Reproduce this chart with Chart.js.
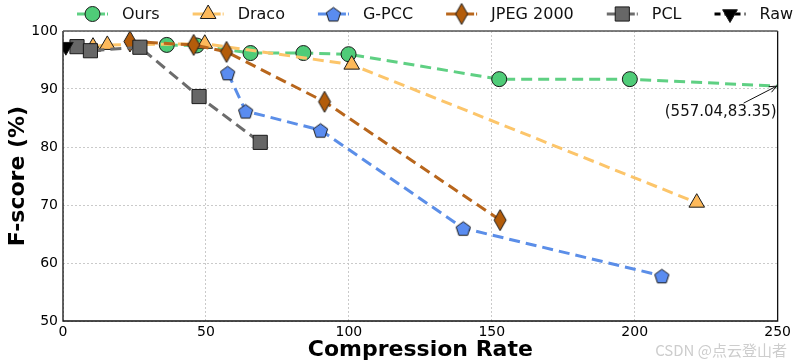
<!DOCTYPE html>
<html>
<head>
<meta charset="utf-8">
<script src="https://cdn.jsdelivr.net/npm/chart.js@4.4.1/dist/chart.umd.min.js"></script>
<style>
  html, body { margin: 0; padding: 0; background: #fff; }
  #wrap { width: 794px; height: 363px; }
</style>
</head>
<body>
<div id="wrap"><canvas id="myChart" width="794" height="363"></canvas></div>
<script>
// values
var oursX = [36.3, 46.8, 65.6, 84.1, 99.9, 152.6, 198.3, 557.04];
var oursY = [97.6, 97.5, 96.2, 96.2, 96.0, 91.7, 91.7, 83.35];
var dracoX = [10.5, 15.5, 49.6, 101.0, 221.7];
var dracoY = [97.3, 97.6, 97.8, 94.2, 70.4];
var gpccX = [57.6, 63.9, 90.1, 140.0, 209.5];
var gpccY = [92.8, 86.2, 82.9, 66.0, 57.8];
var jpegX = [23.4, 45.7, 57.2, 91.5, 152.9];
var jpegY = [98.2, 97.6, 96.4, 87.8, 67.4];
var pclX = [4.9, 9.6, 26.9, 47.6, 69.0];
var pclY = [97.3, 96.6, 97.2, 88.7, 80.8];
var rawX = [1];
var rawY = [97.3];
var names = ['Ours', 'Draco', 'G-PCC', 'JPEG 2000', 'PCL', 'Raw'];
var xTicks = [0, 50, 100, 150, 200, 250];
var yTicks = [50, 60, 70, 80, 90, 100];

function pts(xs, ys) {
    var out = [];
    for (var i = 0; i < xs.length; i++) out.push({ x: xs[i], y: ys[i] });
    return out;
}

// pentagon and thin diamond markers (not built into Chart.js)
function pentagon(r, fill) {
    var s = Math.ceil(2 * r + 4);
    var c = document.createElement('canvas');
    c.width = s; c.height = s;
    var g = c.getContext('2d');
    g.beginPath();
    for (var i = 0; i < 5; i++) {
        var a = -Math.PI / 2 + i * 2 * Math.PI / 5;
        var px = s / 2 + r * Math.cos(a), py = s / 2 + 1 + r * Math.sin(a);
        if (i == 0) g.moveTo(px, py); else g.lineTo(px, py);
    }
    g.closePath();
    g.fillStyle = fill; g.fill();
    g.lineWidth = 1; g.strokeStyle = '#1a1a1a'; g.stroke();
    return c;
}

function thinDiamond(w, h, fill) {
    var c = document.createElement('canvas');
    c.width = w + 4; c.height = h + 4;
    var g = c.getContext('2d');
    var cx = c.width / 2, cy = c.height / 2;
    g.beginPath();
    g.moveTo(cx, cy - h / 2);
    g.lineTo(cx + w / 2, cy);
    g.lineTo(cx, cy + h / 2);
    g.lineTo(cx - w / 2, cy);
    g.closePath();
    g.fillStyle = fill; g.fill();
    g.lineWidth = 1; g.strokeStyle = '#1a1a1a'; g.stroke();
    return c;
}

var dash = [11, 6];

var datasets = [
    { label: names[0], data: pts(oursX, oursY), borderColor: '#5fd083', backgroundColor: '#4fcc78',
      pointStyle: 'circle', pointRadius: 7.5, order: 6 },
    { label: names[1], data: pts(dracoX, dracoY), borderColor: '#fcc56a', backgroundColor: '#fdb95a',
      pointStyle: 'triangle', pointRadius: 9, order: 5 },
    { label: names[2], data: pts(gpccX, gpccY), borderColor: '#5b8ee8', backgroundColor: '#5a8cf0',
      pointStyle: pentagon(7.5, '#5a8cf0'), pointRadius: 8, order: 4 },
    { label: names[3], data: pts(jpegX, jpegY), borderColor: '#b8661c', backgroundColor: '#b35c0a',
      pointStyle: thinDiamond(12, 21, '#b35c0a'), pointRadius: 10, order: 3 },
    { label: names[4], data: pts(pclX, pclY), borderColor: '#6c6c6c', backgroundColor: '#676767',
      pointStyle: 'rect', pointRadius: 10, order: 2 },
    { label: names[5], data: pts(rawX, rawY), borderColor: '#000', backgroundColor: '#000',
      pointStyle: 'triangle', rotation: 180, pointRadius: 8.5, order: 1 }
];
datasets.forEach(function (d) {
    d.borderWidth = 3;
    d.borderDash = dash;
    d.pointBorderColor = '#1a1a1a';
    d.pointBorderWidth = 1;
    d.pointHoverRadius = d.pointRadius;
    d.pointRotation = d.rotation || 0;
    d.tension = 0;
    d.clip = 0;
});

// legend row: short line + marker + name
var legendPlugin = {
    id: 'lineLegend',
    afterDraw: function (chart) {
        var ctx = chart.ctx;
        var x = 77, y = 14, gap = 33;
        ctx.save();
        ctx.font = '16px "DejaVu Sans"';
        ctx.textBaseline = 'middle';
        ctx.textAlign = 'left';
        chart.data.datasets.forEach(function (d) {
            ctx.strokeStyle = d.borderColor;
            ctx.lineWidth = 3;
            ctx.setLineDash(d.label == 'Raw' ? [6, 4] : [13, 2]);
            ctx.beginPath();
            ctx.moveTo(x, y); ctx.lineTo(x + 31, y);
            ctx.stroke();
            ctx.setLineDash([]);
            ctx.fillStyle = d.backgroundColor;
            ctx.strokeStyle = '#1a1a1a';
            ctx.lineWidth = 1;
            Chart.helpers.drawPoint(ctx, {
                pointStyle: d.pointStyle, radius: d.pointRadius,
                rotation: d.pointRotation, borderWidth: 1
            }, x + 15.5, y);
            ctx.fillStyle = '#111';
            ctx.fillText(d.label, x + 45, y + 1);
            x = x + 45 + ctx.measureText(d.label).width + gap;
        });
        ctx.restore();
    }
};

// frame, note for the clipped last point, watermark
var extrasPlugin = {
    id: 'extras',
    afterDraw: function (chart) {
        var ctx = chart.ctx, a = chart.chartArea;
        var xs = chart.scales.x, ys = chart.scales.y;
        ctx.save();
        ctx.setLineDash([]);
        ctx.lineWidth = 1.3;
        ctx.strokeStyle = '#111';
        ctx.beginPath();
        ctx.moveTo(a.left, a.top); ctx.lineTo(a.left, a.bottom);
        ctx.lineTo(a.right, a.bottom); ctx.lineTo(a.right, a.top);
        ctx.stroke();
        ctx.strokeStyle = '#555';
        ctx.beginPath();
        ctx.moveTo(a.left, a.top); ctx.lineTo(a.right, a.top);
        ctx.stroke();

        var n = oursX.length;
        var x0 = oursX[n - 2], y0 = oursY[n - 2], x1 = oursX[n - 1], y1 = oursY[n - 1];
        var yEdge = y0 + (y1 - y0) * (xs.max - x0) / (x1 - x0);
        var hx = xs.getPixelForValue(xs.max) - 1, hy = ys.getPixelForValue(yEdge);
        var tx = hx - 33, ty = hy + 17;
        ctx.strokeStyle = '#111';
        ctx.lineWidth = 1;
        ctx.beginPath();
        ctx.moveTo(tx, ty); ctx.lineTo(hx, hy);
        var ang = Math.atan2(hy - ty, hx - tx);
        ctx.moveTo(hx, hy); ctx.lineTo(hx - 8 * Math.cos(ang - 0.4), hy - 8 * Math.sin(ang - 0.4));
        ctx.moveTo(hx, hy); ctx.lineTo(hx - 8 * Math.cos(ang + 0.4), hy - 8 * Math.sin(ang + 0.4));
        ctx.stroke();
        ctx.font = '15px "DejaVu Sans"';
        ctx.fillStyle = '#111';
        ctx.textAlign = 'right';
        ctx.textBaseline = 'middle';
        ctx.fillText('(' + x1 + ',' + y1 + ')', hx, hy + 26);

        ctx.font = '15px "Noto Sans CJK SC"';
        ctx.fillStyle = '#cdcdcd';
        ctx.textAlign = 'right';
        ctx.fillText('CSDN @点云登山者', 787, 350);
        ctx.restore();
    }
};

Chart.defaults.font.family = '"DejaVu Sans"';
Chart.defaults.color = '#000';

var ctx = document.getElementById('myChart').getContext('2d');
var myChart = new Chart(ctx, {
    type: 'line',
    data: { datasets: datasets },
    options: {
        responsive: false,
        devicePixelRatio: 1,
        animation: false,
        layout: { padding: { top: 31, right: 15, left: 0, bottom: 0 } },
        plugins: {
            legend: { display: false },
            tooltip: { enabled: false }
        },
        scales: {
            x: {
                type: 'linear',
                min: 0, max: 250,
                afterBuildTicks: function (s) { s.ticks = xTicks.map(function (v) { return { value: v }; }); },
                afterFit: function (s) { s.height = 42; },
                ticks: { font: { size: 14 }, padding: 3, maxRotation: 0 },
                grid: { color: '#c4c4c4', lineWidth: 0.9, drawTicks: false },
                border: { display: false, dash: [2, 2] },
                title: { display: true, text: 'Compression Rate', font: { size: 22, weight: 'bold' },
                         padding: { top: 0, bottom: 0 } }
            },
            y: {
                min: 50, max: 100,
                afterBuildTicks: function (s) { s.ticks = yTicks.map(function (v) { return { value: v }; }); },
                afterFit: function (s) { s.width = 63; },
                ticks: { font: { size: 14 }, padding: 5 },
                grid: { color: '#c4c4c4', lineWidth: 0.9, drawTicks: false },
                border: { display: false, dash: [2, 2] },
                title: { display: true, text: 'F-score (%)', font: { size: 22, weight: 'bold' },
                         padding: { top: 5, bottom: 0 } }
            }
        }
    },
    plugins: [legendPlugin, extrasPlugin]
});
</script>
</body>
</html>
